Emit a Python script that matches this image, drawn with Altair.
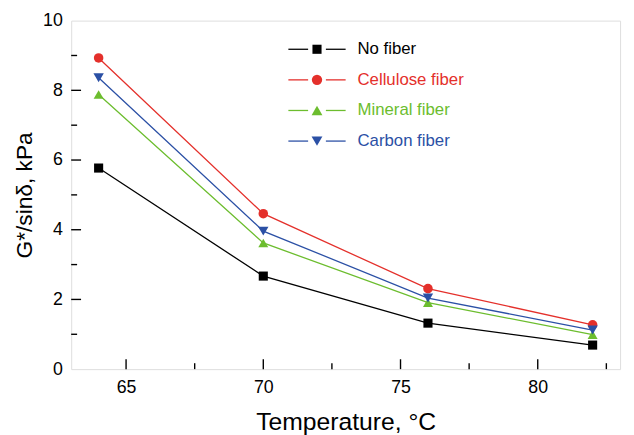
import altair as alt
import pandas as pd

temps = [64, 70, 76, 82]
series = ["No fiber", "Cellulose fiber", "Mineral fiber", "Carbon fiber"]
no_fiber = [5.77, 2.67, 1.32, 0.69]
cellulose = [8.93, 4.46, 2.31, 1.27]
mineral = [7.88, 3.62, 1.91, 0.99]
carbon = [8.36, 3.96, 2.04, 1.12]
colors = ["#000000", "#e4302b", "#6cbd2e", "#2b50a5"]
shapes = ["square", "circle", "triangle-up", "triangle-down"]
sizes = [85, 110, 120, 120]
major_x = [65, 70, 75, 80]
minor_x = [67.5, 72.5, 77.5, 82.5]
major_y = [0, 2, 4, 6, 8, 10]
minor_y = [1, 3, 5, 7, 9]

rows = []
for name, vals in zip(series, [no_fiber, cellulose, mineral, carbon]):
    for t, v in zip(temps, vals):
        rows.append({"Temperature": t, "G": v, "Series": name})
df = pd.DataFrame(rows)

FONT = "Liberation Sans"
W, H = 556, 353
YMAX = 10
xs = alt.Scale(domain=[63, 83], nice=False, zero=False)
ys = alt.Scale(domain=[0, YMAX], nice=False)
cscale = alt.Scale(domain=series, range=colors)

x_axis = alt.Axis(orient="bottom", values=major_x, ticks=False, domain=False, grid=False,
                  labelFont=FONT, labelFontSize=18, labelColor="black", labelPadding=10,
                  title="Temperature, °C", titleFont=FONT, titleFontSize=25,
                  titleFontWeight="normal", titleColor="black", titlePadding=13)
y_axis = alt.Axis(orient="left", values=major_y, ticks=False, domain=False, grid=False,
                  labelFont=FONT, labelFontSize=18, labelColor="black", labelPadding=9,
                  title="G*/sinδ, kPa", titleFont=FONT, titleFontSize=23,
                  titleFontWeight="normal", titleColor="black", titlePadding=6)

base = alt.Chart(df)
lines = base.mark_line(strokeWidth=1.3).encode(
    x=alt.X("Temperature:Q", scale=xs, axis=x_axis),
    y=alt.Y("G:Q", scale=ys, axis=y_axis),
    color=alt.Color("Series:N", scale=cscale, legend=None),
    detail="Series:N",
)
points = base.mark_point(filled=True, opacity=1).encode(
    x=alt.X("Temperature:Q"),
    y=alt.Y("G:Q"),
    color=alt.Color("Series:N", scale=cscale, legend=None),
    shape=alt.Shape("Series:N", scale=alt.Scale(domain=series, range=shapes), legend=None),
    size=alt.Size("Series:N", scale=alt.Scale(domain=series, range=sizes), legend=None),
)

def xticks(vals, length):
    return alt.Chart(pd.DataFrame({"Temperature": vals})).mark_rule(
        color="black", strokeWidth=1.4).encode(
        x=alt.X("Temperature:Q"),
        y=alt.value(H), y2=alt.value(H - length))

def yticks(vals, length):
    return alt.Chart(pd.DataFrame({"G": vals})).mark_rule(
        color="black", strokeWidth=1.4).encode(
        y=alt.Y("G:Q"), x=alt.value(0), x2=alt.value(length))

tick_layers = [xticks(major_x, 10), xticks(minor_x, 6),
               yticks(major_y[1:-1], 10), yticks(minor_y, 6)]

legend_layers = []
for i, (name, col, shp, sz) in enumerate(zip(series, colors, shapes, sizes)):
    ypx = 29 + i * 31
    ldf = pd.DataFrame({"Series": [name]})
    lb = alt.Chart(ldf)
    legend_layers.append(lb.mark_rule(color=col, strokeWidth=1.3).encode(
        x=alt.value(220), x2=alt.value(240), y=alt.value(ypx)))
    legend_layers.append(lb.mark_rule(color=col, strokeWidth=1.3).encode(
        x=alt.value(258), x2=alt.value(278), y=alt.value(ypx)))
    legend_layers.append(lb.mark_point(filled=True, opacity=1, color=col, shape=shp, size=sz).encode(
        x=alt.value(249), y=alt.value(ypx)))
    legend_layers.append(lb.mark_text(align="left", baseline="middle", font=FONT, fontSize=17,
                                      color=col).encode(
        x=alt.value(290), y=alt.value(ypx), text="Series:N"))

chart = alt.layer(lines, points, *tick_layers, *legend_layers).properties(
    width=W, height=H,
    autosize=alt.AutoSizeParams(type="none"),
    padding={"left": 64, "top": 10, "right": 6, "bottom": 70},
).configure_view(stroke="black", strokeWidth=1.5).configure(background="white")

chart.save("out.html", embed_options={"renderer": "svg", "actions": False})
